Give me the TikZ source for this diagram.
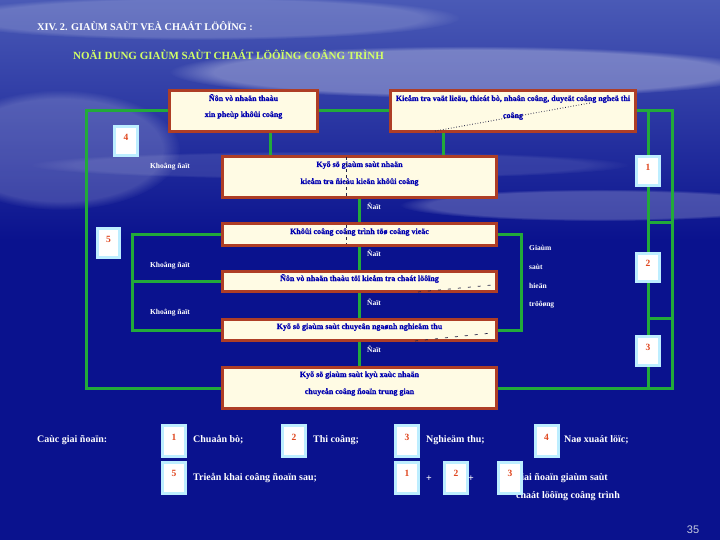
\documentclass[tikz,border=0pt]{standalone}
\usepackage{fontspec}
\setmainfont{Liberation Serif}
\newfontfamily\pagefont{Liberation Sans}
\newfontfamily\heavy{Liberation Serif Bold}[FakeBold=0.5]
\usetikzlibrary{calc,fadings}
\definecolor{bgblue}{HTML}{0A128E}
\definecolor{bgtop}{HTML}{4A5AB6}
\definecolor{boxred}{HTML}{AE3E26}
\definecolor{boxfill}{HTML}{FFFBE4}
\definecolor{txtblue}{HTML}{0000B0}
\definecolor{lnkgreen}{HTML}{22AA3A}
\definecolor{numborder}{HTML}{BDEEFF}
\definecolor{numred}{HTML}{E0461E}
\definecolor{titlegreen}{HTML}{D2FF66}
\definecolor{pagegray}{HTML}{C8CCE0}
\definecolor{artif}{HTML}{222244}
\pgfdeclarelayer{bg}
\pgfdeclarelayer{links}
\pgfsetlayers{bg,links,main}
\tikzset{
  bigbox/.style={draw=boxred, line width=3pt, fill=boxfill, inner sep=0pt, minimum width=274pt},
  boxtext/.style={text=txtblue, font=\heavy\fontsize{8}{10}\selectfont, inner sep=0pt, anchor=base},
  numbox/.style={draw=numborder, line width=3pt, fill=white, inner sep=0pt,
    minimum width=23pt, minimum height=29pt, text=numred,
    font=\fontsize{9.5}{10}\selectfont\bfseries, text height=6.5pt, text depth=8pt},
  link/.style={draw=lnkgreen, line width=3pt},
  wlabel/.style={text=white, font=\fontsize{7.5}{8}\selectfont\bfseries, inner sep=0pt},
  legend/.style={text=white, font=\fontsize{10}{12}\selectfont\bfseries, inner sep=0pt, anchor=west},
  artline/.style={draw=artif, line width=0.7pt},
  haze/.style={fill=white, path fading=circle with fuzzy edge 15 percent},
}
\begin{document}
\begin{tikzpicture}[x=1pt,y=-1pt]
\useasboundingbox (0,0) rectangle (720,540);
\begin{pgfonlayer}{bg}
  \fill[bgblue] (0,0) rectangle (720,540);
  \shade[top color=bgtop, bottom color=bgblue] (0,0) rectangle (720,240);
  \fill[haze, opacity=0.30] (470,72) ellipse (300 and 26);
  \fill[haze, opacity=0.22] (600,205) ellipse (200 and 16);
  \fill[haze, opacity=0.18] (60,150) ellipse (120 and 60);
  \fill[haze, opacity=0.18] (200,18) ellipse (260 and 22);
  \fill[haze, opacity=0.10] (330,165) ellipse (300 and 14);
\end{pgfonlayer}

% titles
\node[anchor=west, text=white, font=\fontsize{10.3}{11}\selectfont\bfseries, inner sep=0pt] (t1) at (37,26) {XIV. 2. GIAÙM SAÙT VEÀ CHAÁT LÖÔÏNG :};
\node[anchor=west, text=titlegreen, font=\fontsize{11}{12}\selectfont\bfseries, inner sep=0pt] (t2) at (73,55) {NOÄI DUNG GIAÙM SAÙT CHAÁT LÖÔÏNG COÂNG TRÌNH};

% big boxes
\node[bigbox, minimum width=148pt, minimum height=41pt] (A) at (243.5,111) {};
\node[bigbox, minimum width=245pt, minimum height=41pt] (B) at (513,111) {};
\node[bigbox, minimum height=41pt] (C) at (359.5,177) {};
\node[bigbox, minimum height=22pt] (D) at (359.5,234.5) {};
\node[bigbox, minimum height=20pt] (E) at (359.5,281.5) {};
\node[bigbox, minimum height=21pt] (G) at (359.5,330) {};
\node[bigbox, minimum height=41pt] (F) at (359.5,388) {};

\node[boxtext] (At1) at (243.5,101) {Ñôn vò nhaän thaàu};
\node[boxtext] (At2) at (243.5,117) {xin pheùp khôûi coâng};
\node[boxtext] (Bt1) at (513,101) {Kieåm tra vaät lieäu, thieát bò, nhaân coâng, duyeät coâng ngheä thi};
\node[boxtext] (Bt2) at (513,118) {coâng};
\node[boxtext] (Ct1) at (359.5,167) {Kyõ sö giaùm saùt nhaän};
\node[boxtext] (Ct2) at (359.5,184) {kieåm tra ñieàu kieän khôûi coâng};
\node[boxtext] (Dt) at (359.5,234) {Khôûi coâng coâng trình töø coâng vieäc};
\node[boxtext] (Et) at (359.5,281) {Ñôn vò nhaän thaàu töï kieåm tra chaát löôïng};
\node[boxtext] (Gt) at (359.5,329) {Kyõ sö giaùm saùt chuyeân ngaønh nghieäm thu};
\node[boxtext] (Ft1) at (359.5,377) {Kyõ sö giaùm saùt kyù xaùc nhaän};
\node[boxtext] (Ft2) at (359.5,394) {chuyeån coâng ñoaïn trung gian};

% artifacts inside boxes
\draw[artline, dotted, line width=0.9pt] (435,131) -- (590,103);
\draw[artline, dash pattern=on 3pt off 3pt] (346,157) -- (346,197);
\draw[artline, dash pattern=on 3pt off 3pt] (346,225) -- (346,244);
\draw[artline, dash pattern=on 3pt off 7pt] (418,292) -- (492,285);
\draw[artline, dash pattern=on 3pt off 7pt] (415,341) -- (492,333);

% coordinates for connectors
\coordinate (xA) at (270,0);
\coordinate (xB) at (443,0);
\coordinate (xL) at (132,0);
\coordinate (xR) at (521,0);
\coordinate (TL) at (86,111);
\coordinate (BL) at (86,388);
\coordinate (TR) at (672,111);
\coordinate (BR) at (672,388);
\coordinate (R1) at (648,111);
\coordinate (R4) at (648,388);
\coordinate (Ca) at (648,223);
\coordinate (Cb) at (672,223);
\coordinate (Cc) at (648,318);
\coordinate (Cd) at (672,318);

\begin{pgfonlayer}{links}
  \draw[link] (A.east) -- (B.west);
  \draw[link] (A.west) -- (TL) -- (BL) -- (F.west);
  \draw[link] (B.east) -- (TR) -- (BR) -- (F.east);
  \draw[link] (R1) -- (R4);
  \draw[link] (Ca) -- (Cb);
  \draw[link] (Cc) -- (Cd);
  \draw[link] (A.south -| xA) -- (C.north -| xA);
  \draw[link] (B.south -| xB) -- (C.north -| xB);
  \draw[link] (C.south) -- (D.north);
  \draw[link] (D.south) -- (E.north);
  \draw[link] (E.south) -- (G.north);
  \draw[link] (G.south) -- (F.north);
  \draw[link] (D.west) -- (D.west -| xL) -- (G.west -| xL) -- (G.west);
  \draw[link] (E.west) -- (E.west -| xL);
  \draw[link] (D.east) -- (D.east -| xR) -- (G.east -| xR) -- (G.east);
\end{pgfonlayer}

% number boxes on the frame
\node[numbox] (n1) at (648,171) {1};
\node[numbox, minimum height=28pt] (n2) at (648,267.5) {2};
\node[numbox] (n3) at (648,351) {3};
\node[numbox] (n4) at (126,141) {4};
\node[numbox, minimum width=22pt] (n5) at (108.5,243) {5};

% labels
\node[wlabel] (k1) at (170,167) {Khoâng ñaït};
\node[wlabel] (k2) at (170,266) {Khoâng ñaït};
\node[wlabel] (k3) at (170,313) {Khoâng ñaït};
\node[wlabel] (d1) at (374,206) {Ñaït};
\node[wlabel] (d2) at (374,253) {Ñaït};
\node[wlabel] (d3) at (374,302) {Ñaït};
\node[wlabel] (d4) at (374,349) {Ñaït};
\node[wlabel, anchor=west] (g1) at (529,248) {Giaùm};
\node[wlabel, anchor=west] (g2) at (529,267) {saùt};
\node[wlabel, anchor=west] (g3) at (529,286) {hieän};
\node[wlabel, anchor=west] (g4) at (529,305) {tröôøng};

% legend
\node[legend] (lg0) at (37,440) {Caùc giai ñoaïn:};
\node[numbox, minimum height=31pt] (L1) at (174,441) {1};
\node[legend] (lg1) at (193,440) {Chuaån bò;};
\node[numbox, minimum height=31pt] (L2) at (294,441) {2};
\node[legend] (lg2) at (313,440) {Thi coâng;};
\node[numbox, minimum height=31pt] (L3) at (407,441) {3};
\node[legend] (lg3) at (426,440) {Nghieäm thu;};
\node[numbox, minimum height=31pt] (L4) at (546.5,441) {4};
\node[legend] (lg4) at (564,440) {Naø xuaát löïc;};
\node[numbox, minimum height=31pt] (L5) at (174,477.5) {5};
\node[legend] (lg5) at (193,478) {Trieån khai coâng ñoaïn sau;};
\node[numbox, minimum height=31pt] (M1) at (407,477.5) {1};
\node[legend, anchor=center] (pl1) at (429,479) {+};
\node[numbox, minimum height=31pt] (M2) at (456,477.5) {2};
\node[legend, anchor=center] (pl2) at (471,479) {+};
\node[legend, anchor=east] (lg6) at (608,478) {Giai ñoaïn giaùm saùt};
\node[legend] (lg7) at (516,496) {chaát löôïng coâng trình};
\node[numbox, minimum height=31pt] (M3) at (510,477.5) {3};

\node[text=pagegray, font=\pagefont\fontsize{11}{12}\selectfont, inner sep=0pt] (pg) at (693,530) {35};
\end{tikzpicture}
\end{document}
